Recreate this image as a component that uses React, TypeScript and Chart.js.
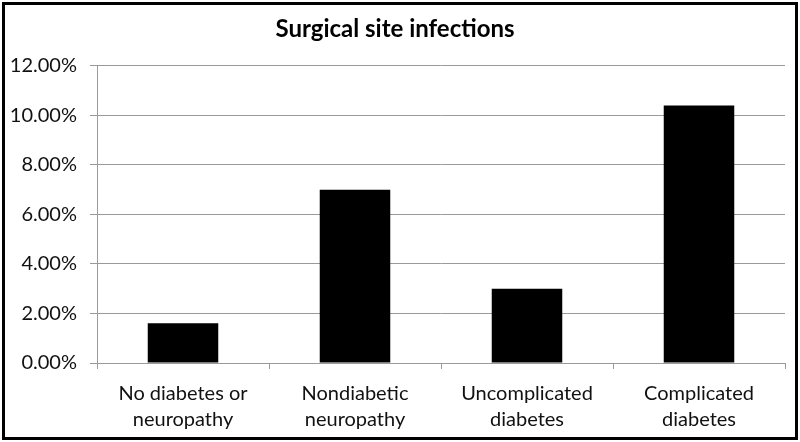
import React, { useEffect, useRef } from "react";
import { Chart, registerables } from "chart.js";

Chart.register(...registerables);

const categories: string[][] = [
  ["No diabetes or", "neuropathy"],
  ["Nondiabetic", "neuropathy"],
  ["Uncomplicated", "diabetes"],
  ["Complicated", "diabetes"],
];
const infectionRates: number[] = [1.6, 7.0, 3.0, 10.4];
const chartTitle = "Surgical site infections";
const yMin = 0;
const yMax = 12;
const yStep = 2;

const FONT = "Lato, 'Open Sans', sans-serif";

export default function App() {
  const ref = useRef<HTMLCanvasElement | null>(null);

  useEffect(() => {
    document.body.style.margin = "0";
    const canvas = ref.current;
    if (!canvas) return;
    const chart = new Chart(canvas, {
      type: "bar",
      data: {
        labels: categories,
        datasets: [
          {
            data: infectionRates,
            backgroundColor: "#000000",
            borderWidth: 0,
            barPercentage: 0.41,
            categoryPercentage: 1,
          },
        ],
      },
      options: {
        animation: false,
        responsive: false,
        maintainAspectRatio: false,
        layout: { padding: { left: 0, right: 10, top: 0, bottom: 0 } },
        plugins: {
          legend: { display: false },
          tooltip: { enabled: false },
          title: {
            display: true,
            text: chartTitle,
            color: "#000",
            font: { family: FONT, size: 24, weight: "bold", lineHeight: 1.2 },
            padding: { top: 10, bottom: 22 },
          },
        },
        scales: {
          x: {
            grid: {
              display: true,
              drawOnChartArea: false,
              drawTicks: true,
              tickLength: 6,
              color: "#9a9a9a",
              offset: true,
            },
            border: { display: true, color: "#9a9a9a", width: 1 },
            ticks: {
              color: "#111",
              font: { family: FONT, size: 20, lineHeight: 1.3 },
              padding: 12,
              maxRotation: 0,
              autoSkip: false,
            },
            afterFit: (scale: any) => {
              scale.height = 74;
            },
          },
          y: {
            min: yMin,
            max: yMax,
            grid: {
              color: "#9a9a9a",
              tickLength: 7,
              drawTicks: true,
            },
            border: { display: true, color: "#9a9a9a", width: 1 },
            ticks: {
              stepSize: yStep,
              color: "#111",
              font: { family: FONT, size: 20 },
              padding: 13,
              callback: (v: any) => Number(v).toFixed(2) + "%",
            },
            afterFit: (scale: any) => {
              scale.width = 92;
            },
          },
        },
      },
    });
    return () => chart.destroy();
  }, []);

  return (
    <div style={{ width: 800, height: 442, padding: 2, boxSizing: "border-box", background: "#fff" }}>
      <div style={{ width: 796, height: 438, border: "3px solid #000", boxSizing: "border-box", background: "#fff" }}>
        <canvas ref={ref} width={790} height={432} style={{ display: "block", width: 790, height: 432 }} />
      </div>
    </div>
  );
}
